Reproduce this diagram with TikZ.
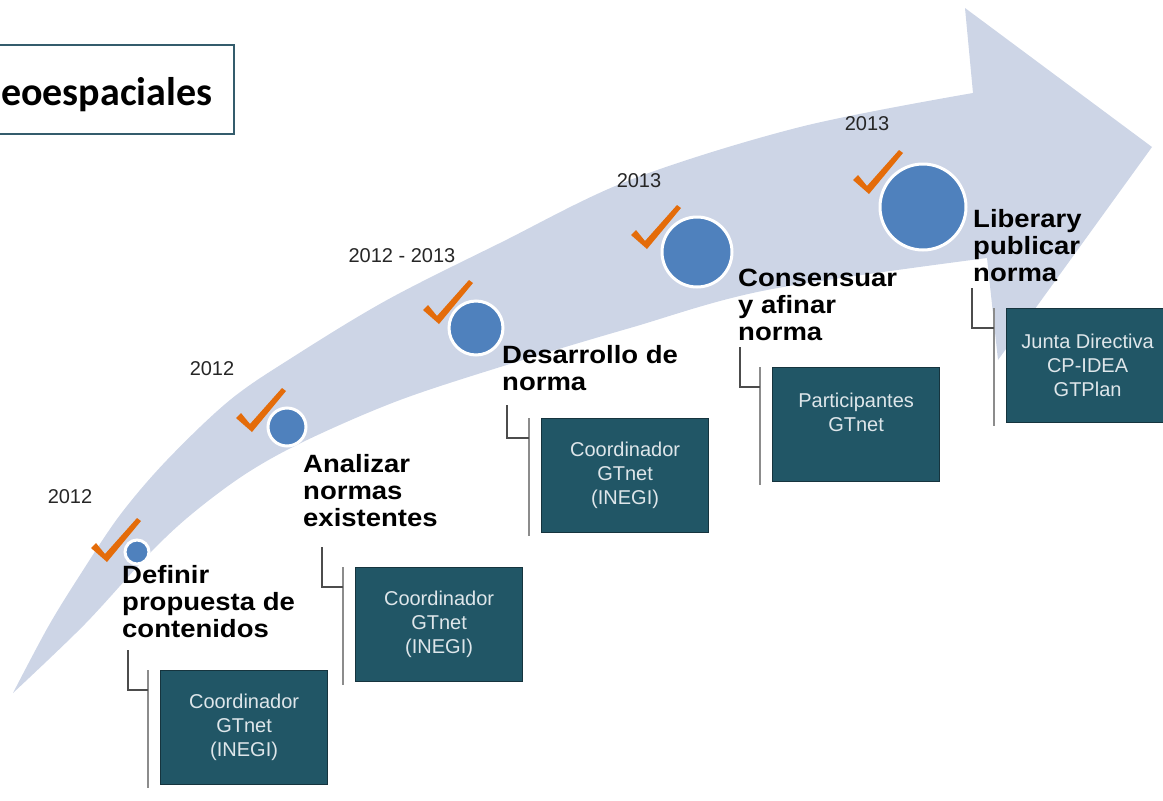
\documentclass[tikz,border=0pt]{standalone}
\usepackage{fontspec}
\setmainfont{Liberation Sans}
\newfontfamily\stepfont[FakeStretch=1.1]{Liberation Sans}
\newfontfamily\headfont{Carlito}

\definecolor{band}{RGB}{205,213,230}
\definecolor{dot}{RGB}{79,129,189}
\definecolor{tick}{RGB}{228,108,10}
\definecolor{boxfill}{RGB}{33,86,102}
\definecolor{boxline}{RGB}{22,52,62}
\definecolor{boxtext}{RGB}{222,230,234}
\definecolor{frame}{RGB}{52,92,108}

\tikzset{
  role/.style={draw=boxline, line width=1.2pt, fill=boxfill, text=boxtext, align=center,
    font=\fontsize{20}{24}\selectfont, anchor=north west, inner sep=0pt,
    minimum width=167, minimum height=114},
  dotn/.style={circle, fill=dot, draw=white, line width=3pt, inner sep=0pt},
  year/.style={font=\fontsize{20}{24}\selectfont, text=black!85},
  stepname/.style={font=\stepfont\bfseries\fontsize{25}{27}\selectfont, align=left,
    anchor=north west, inner sep=0pt},
  brk/.style={draw=black!70, line width=1.5pt},
  rail/.style={draw=black!45, line width=1.5pt},
  chk/.pic={\fill[tick] (-14,-12) -- (-9,-17) -- (0,-6) -- (32,-42) -- (36,-39) -- (2,2) -- cycle;}
}

\begin{document}
\begin{tikzpicture}[x=1pt,y=-1pt]
\useasboundingbox (0,0) rectangle (1163,801);
%flecha
\fill[band] plot[smooth,tension=0.55] coordinates {(13,693) (48,627) (80,575) (120,515) (167,460) (230,400) (293,357) (387,300) (500,243) (630,180) (800,127) (973,93)}
  -- (965,8) -- (1152,147) -- (998,360) -- (987,258)
  -- plot[smooth,tension=0.55] coordinates {(987,258) (767,290) (630,328) (513,363) (400,400) (307,440) (247,473) (193,513) (150,553) (85,624) (13,693)} -- cycle;
%titulo
\node[draw=frame, line width=2pt, anchor=north west, minimum width=238, minimum height=89, inner sep=0pt] (head) at (-5,44) {};
\node[anchor=base west, inner sep=0pt, font=\headfont\bfseries\fontsize{40}{44}\selectfont] (headtxt) at (1,105) {eoespaciales};
%etapas
\node[dotn, minimum size=24] (d1) at (137,552) {};
\node[dotn, minimum size=38] (d2) at (287,427) {};
\node[dotn, minimum size=54] (d3) at (476,328) {};
\node[dotn, minimum size=70] (d4) at (697,252) {};
\node[dotn, minimum size=86] (d5) at (923,207) {};
\pic at (105,560) {chk};
\pic at (250,430) {chk};
\pic at (437,322) {chk};
\pic at (645,247) {chk};
\pic at (867,192) {chk};
%fechas
\node[year] (y1) at (70,497) {2012};
\node[year] (y2) at (212,369) {2012};
\node[year] (y3) at (402,256) {2012 - 2013};
\node[year] (y4) at (639,181) {2013};
\node[year] (y5) at (867,124) {2013};
%nombres
\node[stepname] (t1) at (122,565) {Definir\\propuesta de\\contenidos};
\node[stepname] (t2) at (303,454) {Analizar\\normas\\existentes};
\node[stepname] (t3) at (502,345) {Desarrollo de\\norma};
\node[stepname] (t4) at (738,269) {Consensuar\\y afinar\\norma};
\node[stepname] (t5) at (973,209) {Liberary\\publicar\\norma};
%responsables
\node[role] (b1) at (160,670) {Coordinador\\GTnet\\(INEGI)};
\node[role] (b2) at (355,567) {Coordinador\\GTnet\\(INEGI)};
\node[role] (b3) at (541,418) {Coordinador\\GTnet\\(INEGI)};
\node[role] (b4) at (772,367) {Participantes\\GTnet\\\mbox{}};
\node[role, minimum width=162] (b5) at (1006,308) {Junta Directiva\\CP-IDEA\\GTPlan};
%conectores
\coordinate (k1) at (128,650);
\coordinate (k2) at (322,547);
\coordinate (k3) at (507,405);
\coordinate (k4) at (740,347);
\coordinate (k5) at (972,288);
\foreach \i in {1,...,5}{
  \draw[rail] ([xshift=-12pt]b\i.north west) -- ([xshift=-12pt,yshift=-3pt]b\i.south west);
  \draw[brk] (k\i) |- ([xshift=-12pt,yshift=-20pt]b\i.north west);
}
\end{tikzpicture}
\end{document}
